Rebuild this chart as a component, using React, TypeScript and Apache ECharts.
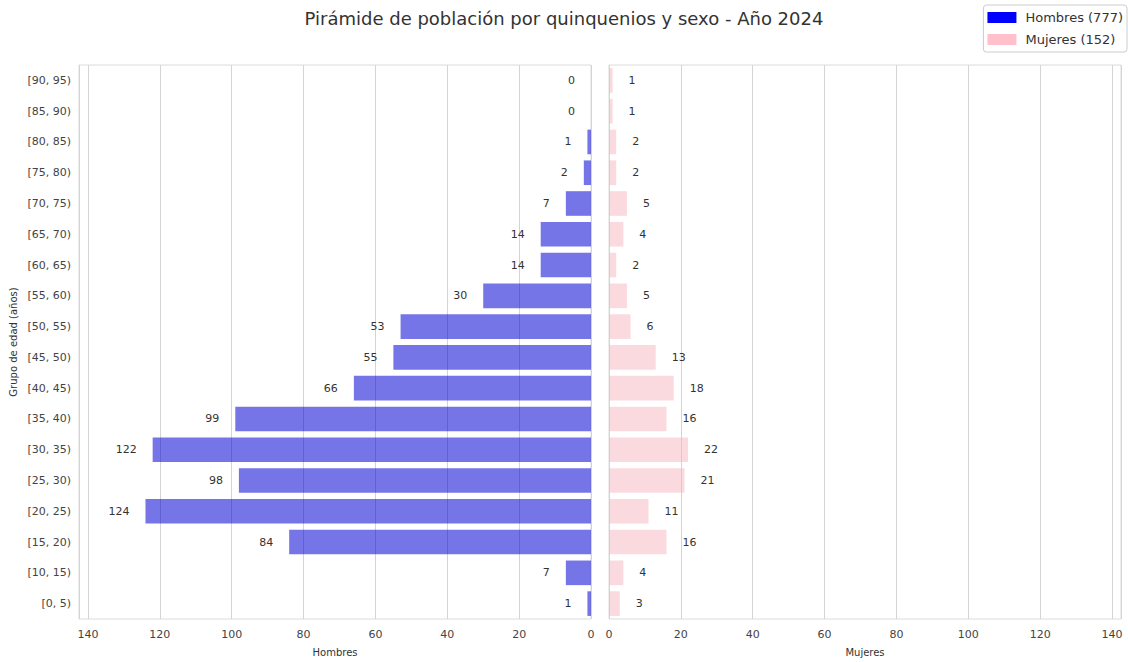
import React, { useEffect, useRef } from "react";
import * as echarts from "echarts";

const ageGroups = [
  "[0, 5)", "[10, 15)", "[15, 20)", "[20, 25)", "[25, 30)", "[30, 35)", "[35, 40)",
  "[40, 45)", "[45, 50)", "[50, 55)", "[55, 60)", "[60, 65)", "[65, 70)", "[70, 75)",
  "[75, 80)", "[80, 85)", "[85, 90)", "[90, 95)",
];
const hombres = [1, 7, 84, 124, 98, 122, 99, 66, 55, 53, 30, 14, 14, 7, 2, 1, 0, 0];
const mujeres = [3, 4, 16, 11, 21, 22, 16, 18, 13, 6, 5, 2, 4, 5, 2, 2, 1, 1];
const xTicks = [0, 20, 40, 60, 80, 100, 120, 140];

const FONT = "DejaVu Sans";
const TITLE = "Pirámide de población por quinquenios y sexo - Año 2024";

export default function App() {
  const ref = useRef<HTMLDivElement>(null);
  useEffect(() => {
    if (!ref.current) return;
    const chart = echarts.init(ref.current, null, { renderer: "svg" });
    const totalH = hombres.reduce((a, b) => a + b, 0);
    const totalM = mujeres.reduce((a, b) => a + b, 0);
    const nameH = `Hombres (${totalH})`;
    const nameM = `Mujeres (${totalM})`;
    const xMax = 142.5;
    const tickFmt = (v: number) => (xTicks.indexOf(v) >= 0 ? String(v) : "");
    const xAxisCommon = {
      type: "value",
      min: 0,
      max: xMax,
      interval: 20,
      axisLine: { show: false },
      axisTick: { show: false },
      axisLabel: { color: "#444", fontSize: 11, fontFamily: FONT, margin: 10, formatter: tickFmt, showMaxLabel: false },
      splitLine: { show: true, lineStyle: { color: "#d4d4d4", width: 1 } },
      nameLocation: "middle",
      nameGap: 28,
      nameTextStyle: { color: "#333", fontSize: 10, fontFamily: FONT },
    };
    const option = {
      animation: false,
      backgroundColor: "#fff",
      title: {
        text: TITLE,
        left: "center",
        top: 4,
        padding: [5, 0, 5, 12],
        textStyle: { fontSize: 18, fontWeight: "normal", color: "#333", fontFamily: FONT },
      },
      legend: {
        orient: "vertical",
        right: 1,
        top: 5,
        padding: [6, 4, 6, 4],
        itemWidth: 29,
        itemHeight: 11,
        itemGap: 9,
        borderColor: "#ccc",
        borderWidth: 1,
        borderRadius: 3,
        icon: "rect",
        textStyle: { fontSize: 13, color: "#333", fontFamily: FONT, padding: [0, 0, 0, 4] },
        data: [
          { name: nameH, itemStyle: { color: "#0000ff" } },
          { name: nameM, itemStyle: { color: "#ffc0cb" } },
        ],
      },
      grid: [
        { left: 79, top: 65, width: 512, height: 562, show: true, borderColor: "#dcdcdc", borderWidth: 1, containLabel: false },
        { left: 609, top: 65, width: 512, height: 562, show: true, borderColor: "#dcdcdc", borderWidth: 1, containLabel: false },
      ],
      xAxis: [
        { ...xAxisCommon, gridIndex: 0, inverse: true, name: "Hombres" },
        { ...xAxisCommon, gridIndex: 1, name: "Mujeres" },
      ],
      yAxis: [
        {
          type: "category",
          gridIndex: 0,
          data: ageGroups,
          axisLine: { show: false },
          axisTick: { show: false },
          axisLabel: { color: "#444", fontSize: 11, fontFamily: FONT, margin: 8 },
          splitLine: { show: false },
          name: "Grupo de edad (años)",
          nameLocation: "middle",
          nameGap: 61,
          nameTextStyle: { color: "#333", fontSize: 10, fontFamily: FONT },
        },
        {
          type: "category",
          gridIndex: 1,
          data: ageGroups,
          axisLine: { show: false },
          axisTick: { show: false },
          axisLabel: { show: false },
          splitLine: { show: false },
        },
      ],
      series: [
        {
          name: nameH,
          type: "bar",
          xAxisIndex: 0,
          yAxisIndex: 0,
          data: hombres,
          barCategoryGap: "20%",
          itemStyle: { color: "rgba(0,0,210,0.54)" },
          label: {
            show: true,
            position: "left",
            distance: 16,
            color: "#333",
            fontSize: 11,
            fontFamily: FONT,
          },
        },
        {
          name: nameM,
          type: "bar",
          xAxisIndex: 1,
          yAxisIndex: 1,
          data: mujeres,
          barCategoryGap: "20%",
          itemStyle: { color: "rgba(245,182,192,0.5)" },
          label: {
            show: true,
            position: "right",
            distance: 16,
            color: "#333",
            fontSize: 11,
            fontFamily: FONT,
          },
        },
      ],
    };
    chart.setOption(option as any);
    return () => chart.dispose();
  }, []);
  return (
    <div
      ref={ref}
      style={{ position: "fixed", left: 0, top: 0, width: 1128, height: 662 }}
    />
  );
}
